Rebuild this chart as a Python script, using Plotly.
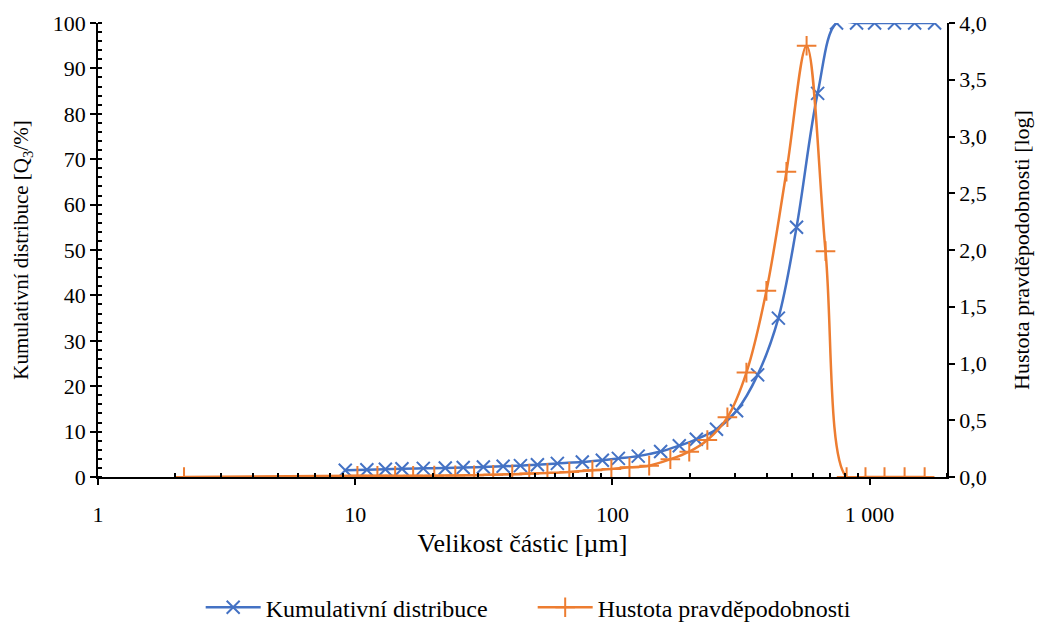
import plotly.graph_objects as go

# Data
size_cum = [9.15, 11.1, 13.1, 15.2, 18.4, 22.4, 26.3, 31.5, 37.6, 43.9, 51.1, 61.1, 76.4,
            91.4, 105.5, 126, 154, 182, 212, 254, 304, 367, 442, 520, 628, 744, 890,
            1046, 1250, 1497, 1790]
cum_values = [1.5, 1.6, 1.7, 1.8, 1.9, 2.0, 2.1, 2.2, 2.35, 2.5, 2.7, 3.0, 3.3,
              3.7, 4.1, 4.6, 5.6, 6.9, 8.3, 10.5, 14.6, 22.5, 35.0, 55.0, 84.5, 100, 100,
              100, 100, 100, 100]

size_dens = [2.16, 10.2, 12.2, 14.3, 16.8, 20.3, 24.5, 29.0, 34.4, 40.8, 47.5, 55.9, 68.0,
             83.6, 99.1, 116.5, 139, 168, 199, 234, 280, 332, 397, 475, 569, 674, 814,
             964, 1143, 1368, 1637]
dens_values = [0.0, 0.01, 0.01, 0.01, 0.01, 0.012, 0.014, 0.016, 0.02, 0.024, 0.03, 0.036, 0.045,
               0.06, 0.07, 0.085, 0.10, 0.156, 0.223, 0.326, 0.526, 0.92, 1.64, 2.69, 3.80, 1.99, 0.0,
               0.0, 0.0, 0.0, 0.0]

x_tickvals = [1, 10, 100, 1000]
x_ticktext = ["1", "10", "100", "1 000"]
x_minor_vals = [m * d for d in (1, 10, 100, 1000) for m in range(2, 10) if m * d <= 2000]
y1_tickvals = list(range(0, 101, 10))
y2_tickvals = [0, 0.5, 1.0, 1.5, 2.0, 2.5, 3.0, 3.5, 4.0]

BLUE = "#4472C4"
ORANGE = "#ED7D31"
FONT = "Times New Roman, Liberation Serif, DejaVu Serif, serif"

fig = go.Figure()
fig.add_trace(go.Scatter(
    x=size_cum, y=cum_values, name="Kumulativní distribuce",
    mode="lines+markers", line=dict(color=BLUE, width=2.5, shape="spline", smoothing=1),
    marker=dict(symbol="x-thin", size=13, line=dict(color=BLUE, width=2), color=BLUE),
    yaxis="y"))
fig.add_trace(go.Scatter(
    x=size_dens, y=dens_values, name="Hustota pravděpodobnosti",
    mode="lines+markers", line=dict(color=ORANGE, width=2.5, shape="spline", smoothing=1),
    marker=dict(symbol="cross-thin", size=14, line=dict(color=ORANGE, width=2), color=ORANGE),
    yaxis="y2"))

axis_common = dict(showgrid=False, zeroline=False, showline=True, linecolor="black",
                   linewidth=1.5, tickcolor="black", tickwidth=1.5, automargin=False,
                   tickfont=dict(family=FONT, size=22, color="black"))

# page body has an 8px default margin, so the figure is offset by 8px
fig.update_layout(
    width=1035, height=617,
    margin=dict(l=90, r=96, t=15, b=148),
    paper_bgcolor="white", plot_bgcolor="white",
    separators=", ",
    font=dict(family=FONT, size=22, color="black"),
    xaxis=dict(type="log", range=[0, 3.301], tickvals=x_tickvals, ticktext=x_ticktext,
               ticks="outside", ticklen=6, ticklabelstandoff=11,
               minor=dict(ticks="inside", ticklen=4, tickvals=x_minor_vals, tickcolor="black",
                          tickwidth=1.5, showgrid=False),
               title=dict(text="Velikost částic [µm]", font=dict(family=FONT, size=26), standoff=8),
               **axis_common),
    yaxis=dict(range=[0, 100], tickvals=y1_tickvals, ticks="outside", ticklen=6,
               minor=dict(ticks="inside", ticklen=4, dtick=2, tickcolor="black", tickwidth=1.5, showgrid=False),
               title=dict(text="Kumulativní distribuce [Q<sub>3</sub>/%]", font=dict(family=FONT, size=21), standoff=18),
               **axis_common),
    yaxis2=dict(range=[0, 4], tickvals=y2_tickvals, tickformat=".1f", overlaying="y", side="right",
                ticks="outside", ticklen=6,
                title=dict(text="Hustota pravděpodobnosti [log]", font=dict(family=FONT, size=22), standoff=28),
                **axis_common),
    legend=dict(orientation="h", x=0.512, xanchor="center", yref="container",
                y=0.028, yanchor="middle",
                font=dict(family=FONT, size=24), itemwidth=55, tracegroupgap=0,
                entrywidth=262, entrywidthmode="pixels",
                bgcolor="rgba(0,0,0,0)"),
    showlegend=True,
)

fig.write_html("out.html")
